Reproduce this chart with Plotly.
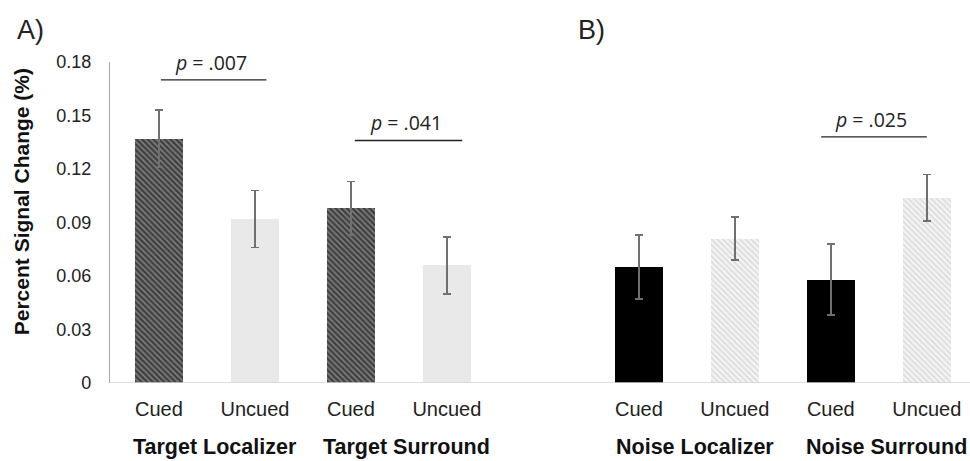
import plotly.graph_objects as go

# Conditions and bar positions (slot 4 left empty between the two panels)
conditions = ["Cued", "Uncued", "Cued", "Uncued", "Cued", "Uncued", "Cued", "Uncued"]
positions = [0, 1, 2, 3, 5, 6, 7, 8]
groups = ["Target Localizer", "Target Surround", "Noise Localizer", "Noise Surround"]

# Percent signal change (means) and standard errors
target_cued = [0.137, 0.098]
target_uncued = [0.092, 0.066]
noise_cued = [0.065, 0.058]
noise_uncued = [0.081, 0.104]
target_cued_err = [0.016, 0.015]
target_uncued_err = [0.016, 0.016]
noise_cued_err = [0.018, 0.020]
noise_uncued_err = [0.012, 0.013]

y_ticks = [0, 0.03, 0.06, 0.09, 0.12, 0.15, 0.18]
y_tick_labels = ["0", "0.03", "0.06", "0.09", "0.12", "0.15", "0.18"]

# Significance brackets: (left x, right x, label)
sig_tests = [(0.02, 1.12, ".007"), (2.04, 3.16, ".041"), (6.9, 8.0, ".025")]
sig_heights = [0.170, 0.136, 0.138]

err_style = dict(type="data", color="#707070", thickness=1.6, width=4)
bar_w = 0.5
font_main = "Liberation Sans"

fig = go.Figure()
fig.add_trace(go.Bar(
    x=[positions[0], positions[2]], y=target_cued, width=bar_w,
    error_y=dict(array=target_cued_err, **err_style),
    marker=dict(color="#808080", line=dict(width=0),
                pattern=dict(shape="\\", fgcolor="#000000", bgcolor="#808080",
                             size=4, solidity=0.62)),
))
fig.add_trace(go.Bar(
    x=[positions[1], positions[3]], y=target_uncued, width=bar_w,
    error_y=dict(array=target_uncued_err, **err_style),
    marker=dict(color="#e9e9e9", line=dict(width=0)),
))
fig.add_trace(go.Bar(
    x=[positions[4], positions[6]], y=noise_cued, width=bar_w,
    error_y=dict(array=noise_cued_err, **err_style),
    marker=dict(color="#000000", line=dict(width=0)),
))
fig.add_trace(go.Bar(
    x=[positions[5], positions[7]], y=noise_uncued, width=bar_w,
    error_y=dict(array=noise_uncued_err, **err_style),
    marker=dict(color="white", line=dict(width=0),
                pattern=dict(shape="\\", fgcolor="#c4c4c4", bgcolor="#f4f4f4",
                             size=4, solidity=0.45)),
))

# Baseline across both panels
fig.add_shape(type="line", xref="paper", yref="y", x0=0, x1=1, y0=0, y1=0,
              line=dict(color="#d4d4d4", width=1.5))

# Significance lines and labels
for (x0, x1, pval), h in zip(sig_tests, sig_heights):
    fig.add_shape(type="line", xref="x", yref="y", x0=x0, x1=x1, y0=h, y1=h,
                  line=dict(color="#222222", width=1.4))
    fig.add_annotation(x=(x0 + x1) / 2, y=h, xref="x", yref="y",
                       yanchor="bottom", yshift=2, xshift=-3,
                       text="<i>p</i> = " + pval, showarrow=False,
                       font=dict(family="Open Sans", size=19.5, color="#222222"))

# Group labels under the condition labels
for i, g in enumerate(groups):
    xc = (positions[2 * i] + positions[2 * i + 1]) / 2
    fig.add_annotation(x=xc, y=0, xref="x", yref="paper", yanchor="middle",
                       yshift=-64, xshift=8, text="<b>" + g + "</b>",
                       showarrow=False,
                       font=dict(family=font_main, size=21.5, color="#111111"))

# Y-axis title
fig.add_annotation(x=-0.102, y=0.564, xref="paper", yref="paper",
                   xanchor="center", yanchor="middle", textangle=-90,
                   text="<b>Percent Signal Change (%)</b>", showarrow=False,
                   font=dict(family=font_main, size=21, color="#111111"))

# Panel letters
fig.add_annotation(x=-0.093, y=1.1, xref="paper", yref="paper",
                   xanchor="center", yanchor="middle",
                   text="A)", showarrow=False,
                   font=dict(family=font_main, size=27, color="#222222"))
fig.add_annotation(x=0.56, y=1.1, xref="paper", yref="paper",
                   xanchor="center", yanchor="middle",
                   text="B)", showarrow=False,
                   font=dict(family=font_main, size=27, color="#222222"))

fig.update_layout(
    width=970, height=461,
    margin=dict(l=110, r=0, t=62, b=78),
    paper_bgcolor="white", plot_bgcolor="white",
    showlegend=False, bargap=0,
    xaxis=dict(range=[-0.51, 8.45], tickmode="array", tickvals=positions,
               ticktext=conditions, showgrid=False, zeroline=False,
               showline=False, ticks="", ticklen=0, ticklabelstandoff=12,
               tickfont=dict(family=font_main, size=20, color="#222222")),
    yaxis=dict(range=[0, 0.18], tickmode="array", tickvals=y_ticks,
               ticktext=y_tick_labels, showgrid=False, zeroline=False,
               showline=True, linecolor="#a8a8a8", linewidth=1.2,
               ticks="", ticklabelstandoff=14,
               tickfont=dict(family=font_main, size=18, color="#222222")),
)

fig.write_html("out.html")
